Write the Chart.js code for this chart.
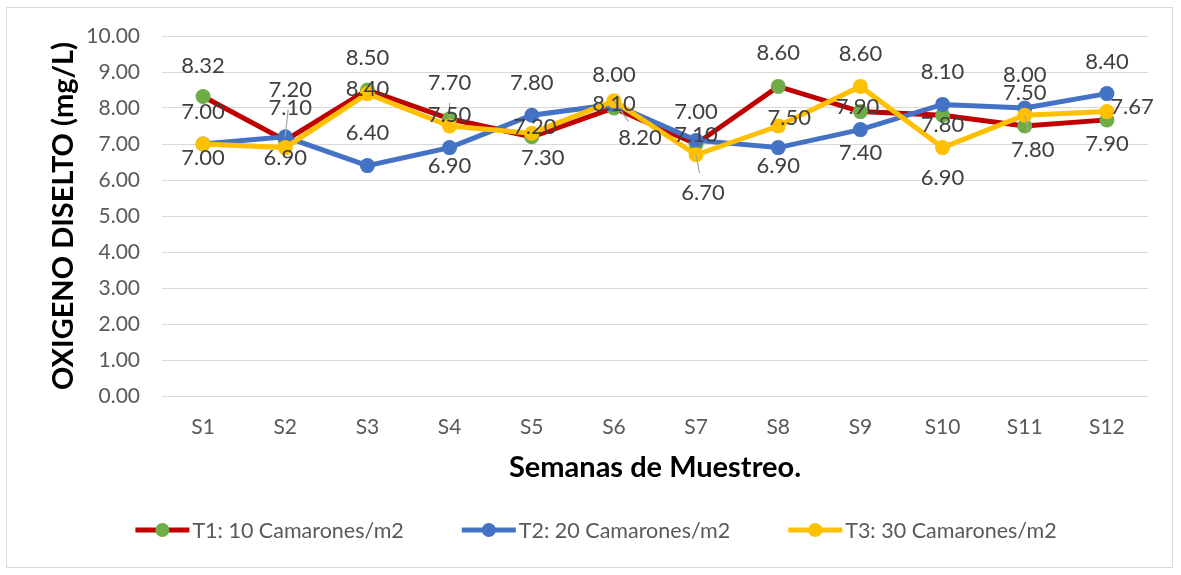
<!DOCTYPE html>
<html><head><meta charset="utf-8">
<script src="https://cdn.jsdelivr.net/npm/chart.js@4.4.0/dist/chart.umd.min.js"></script>
<style>html,body{margin:0;padding:0;background:#fff}canvas{display:block}</style>
</head><body>
<canvas id="c" width="1181" height="575"></canvas>
<script>
// ---- data ----
const categories = ['S1','S2','S3','S4','S5','S6','S7','S8','S9','S10','S11','S12'];
const t1Values = [8.32, 7.10, 8.50, 7.70, 7.20, 8.00, 7.00, 8.60, 7.90, 7.80, 7.50, 7.67];
const t2Values = [7.00, 7.20, 6.40, 6.90, 7.80, 8.10, 7.10, 6.90, 7.40, 8.10, 8.00, 8.40];
const t3Values = [7.00, 6.90, 8.40, 7.50, 7.30, 8.20, 6.70, 7.50, 8.60, 6.90, 7.80, 7.90];
const yTickValues = [0,1,2,3,4,5,6,7,8,9,10];
const seriesNames = ['T1: 10 Camarones/m2','T2: 20 Camarones/m2','T3: 30 Camarones/m2'];
const xTitle = 'Semanas de Muestreo.';
const yTitle = 'OXIGENO DISELTO (mg/L)';

// ---- label placement (style) ----
const t1LabelOffsets = [[0,-31],[5,-32],[0,-32],[0,-36],[3,-10],[0,-33],[0,-32],[0,-33],[-3,-5],[0,10],[0,-33],[25,-13]];
const t2LabelOffsets = [[0,-32],[5,-47],[0,-33],[0,18],[0,-32],[0,0],[0,-5],[0,18],[0,23],[0,-32],[0,-33],[0,-32]];
const t3LabelOffsets = [[0,14],[0,10],[0,-5],[0,-11],[11,25],[26,37],[7,38],[11,-8],[0,-32],[0,30],[8,35],[0,32]];
const t1Leaders = [3];
const t2Leaders = [1];
const t3Leaders = [5,6,10];

const labelOffsets = [t1LabelOffsets, t2LabelOffsets, t3LabelOffsets];
const leaderIdx = [t1Leaders, t2Leaders, t3Leaders];
const lineColors = ['#C00000','#4472C4','#FFC000'];
const markerColors = ['#70AD47','#4472C4','#FFC000'];

Chart.defaults.font.family = 'Lato';

const bgPlugin = {
  id: 'bg',
  beforeDraw(chart){
    const ctx = chart.ctx;
    ctx.save();
    ctx.fillStyle = '#fff';
    ctx.fillRect(0,0,chart.width,chart.height);
    ctx.strokeStyle = '#D9D9D9';
    ctx.lineWidth = 1;
    ctx.strokeRect(6.5,7.5,1166,560);
    ctx.restore();
  }
};

const labelPlugin = {
  id: 'dlabels',
  afterDatasetsDraw(chart){
    const ctx = chart.ctx;
    ctx.save();
    chart.data.datasets.forEach((ds,i)=>{
      const meta = chart.getDatasetMeta(i);
      meta.data.forEach((pt,j)=>{
        if (leaderIdx[i].includes(j)) {
          const off = labelOffsets[i][j];
          const d = Math.hypot(off[0],off[1]);
          const ux = off[0]/d, uy = off[1]/d;
          ctx.strokeStyle = '#A6A6A6';
          ctx.lineWidth = 1.2;
          ctx.beginPath();
          ctx.moveTo(pt.x, pt.y);
          ctx.lineTo(pt.x+ux*(d-20), pt.y+uy*(d-20));
          ctx.stroke();
        }
      });
    });
    ctx.font = '22px Lato';
    ctx.fillStyle = '#404040';
    ctx.textAlign = 'center';
    ctx.textBaseline = 'middle';
    chart.data.datasets.forEach((ds,i)=>{
      const meta = chart.getDatasetMeta(i);
      meta.data.forEach((pt,j)=>{
        const off = labelOffsets[i][j];
        ctx.fillText(ds.data[j].toFixed(2), pt.x+off[0], pt.y+off[1]);
      });
    });
    ctx.restore();
  },
  afterDraw(chart){
    const ctx = chart.ctx;
    ctx.save();
    ctx.font = '21.5px Lato';
    ctx.textBaseline = 'middle';
    ctx.textAlign = 'left';
    const lineW = 54, gapText = 3, gapItem = 58;
    const widths = seriesNames.map(n => lineW + gapText + ctx.measureText(n).width);
    const total = widths.reduce((a,b)=>a+b,0) + gapItem*(widths.length-1);
    let x = 596 - total/2;
    const y = 530;
    seriesNames.forEach((n,i)=>{
      ctx.strokeStyle = lineColors[i];
      ctx.lineWidth = 5;
      ctx.beginPath();
      ctx.moveTo(x, y); ctx.lineTo(x+lineW, y);
      ctx.stroke();
      ctx.fillStyle = markerColors[i];
      ctx.beginPath();
      ctx.arc(x+lineW/2, y, 7, 0, Math.PI*2);
      ctx.fill();
      ctx.fillStyle = '#595959';
      ctx.fillText(n, x+lineW+gapText, y+1);
      x += widths[i] + gapItem;
    });
    ctx.restore();
  }
};

const mk = (i, data, order) => ({
  label: seriesNames[i],
  data: data,
  borderColor: lineColors[i],
  backgroundColor: markerColors[i],
  pointBackgroundColor: markerColors[i],
  pointBorderColor: markerColors[i],
  pointBorderWidth: 0,
  pointRadius: 7.5,
  pointHoverRadius: 7.5,
  borderWidth: 5,
  tension: 0,
  fill: false,
  order: order
});

new Chart(document.getElementById('c'), {
  type: 'line',
  data: {
    labels: categories,
    datasets: [mk(0, t1Values, 2), mk(1, t2Values, 1), mk(2, t3Values, 0)]
  },
  options: {
    responsive: false,
    animation: false,
    devicePixelRatio: 1,
    layout: { padding: { left: 42, top: 36, right: 33, bottom: 90 } },
    plugins: { legend: { display: false }, tooltip: { enabled: false } },
    scales: {
      x: {
        offset: true,
        grid: { display: false, offset: true },
        border: { display: false },
        ticks: { color: '#595959', font: { size: 21 }, padding: 11, maxRotation: 0 },
        title: { display: true, text: xTitle, color: '#000', font: { size: 29, weight: 'bold' }, padding: { top: 2, bottom: 0 } },
        afterFit(scale){ scale.height = 89; }
      },
      y: {
        min: 0, max: 10,
        afterBuildTicks(scale){ scale.ticks = yTickValues.map(v => ({ value: v })); },
        grid: { color: '#D9D9D9', lineWidth: 1, drawTicks: false },
        border: { display: false },
        ticks: { color: '#595959', font: { size: 21 }, padding: 22, callback: v => Number(v).toFixed(2) },
        title: { display: true, text: yTitle, color: '#000', font: { size: 29, weight: 'bold' }, padding: { top: 4, bottom: 4 } },
        afterFit(scale){ scale.width = 120; }
      }
    }
  },
  plugins: [bgPlugin, labelPlugin]
});
</script>
</body></html>
